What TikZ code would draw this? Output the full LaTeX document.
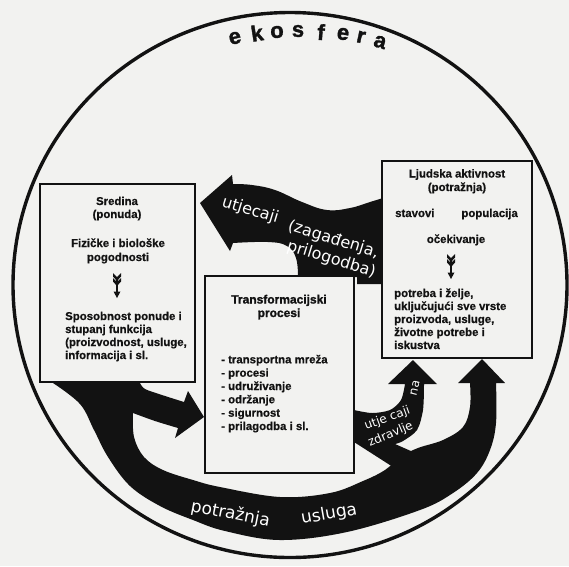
\documentclass[tikz,border=0pt]{standalone}
\usepackage{fontspec}
\setmainfont{Liberation Sans}
\newfontfamily\inkfont{Liberation Sans}[FakeBold=0.6]
\newfontfamily\titlefont{Liberation Sans}[FakeBold=1.4]
\newfontfamily\ekofont{Liberation Sans}[FakeBold=1.5]
\newfontfamily\wfont{DejaVu Sans}
\definecolor{paper}{RGB}{242,242,240}
\definecolor{inkc}{RGB}{18,18,18}
\tikzset{
  featherdown/.pic={
    \fill[inkc] (-4,0) -- (0,4) -- (4,0) -- (4,3.5) -- (0,8) -- (-4,3.5) -- cycle;
    \fill[inkc] (-4,5) -- (0,9) -- (4,5) -- (4,8.5) -- (0,13) -- (-4,8.5) -- cycle;
    \draw[inkc, line width=1.3pt] (0,6) -- (0,20);
    \fill[inkc] (-3.5,18.5) -- (3.5,18.5) -- (0,25) -- cycle;
  }
}
\begin{document}
\begin{tikzpicture}[x=1pt,y=-1pt,
  inkfill/.style={fill=inkc},
  boxnode/.style={draw=inkc, line width=1.4pt, fill=paper, inner sep=0pt},
  bodytext/.style={font=\inkfont\bfseries\fontsize{11.4}{13}\selectfont, inner sep=0pt, text=inkc},
  titletext/.style={font=\titlefont\bfseries\fontsize{12}{13}\selectfont, inner sep=0pt, text=inkc},
  ekotext/.style={font=\ekofont\bfseries\fontsize{22}{22}\selectfont, inner sep=0pt, text=inkc},
  wbig/.style={font=\wfont\fontsize{16}{16}\selectfont, inner sep=0pt, text=white, anchor=base west},
  wmid/.style={font=\wfont\fontsize{17}{17}\selectfont, inner sep=0pt, text=white, anchor=base west},
  wsmall/.style={font=\wfont\fontsize{12}{12}\selectfont, inner sep=0pt, text=white, anchor=base west}
]
\fill[paper] (0,0) rectangle (569,566);
\useasboundingbox (0,0) rectangle (569,566);

% top arrow: utjecaji
\fill[inkfill] (200,203) -- (232,175) -- (233,184)
  -- plot[smooth, tension=0.7] coordinates {(233,184) (252,185) (275,190) (302,202) (327,210) (350,208) (370,202) (383,198)}
  -- (383,284) -- (357,284) -- (357,277) -- (298,277)
  -- plot[smooth, tension=0.7] coordinates {(298,277) (296,258) (287,246) (268,242) (233,243)}
  -- (230,251) -- cycle;

% main band: potraznja usluga
\fill[inkfill] (53,383)
  -- plot[smooth, tension=0.6] coordinates {(53,383) (80,404) (94,430) (108,457) (130,486) (160,506) (193,520) (225,531) (280,540) (347,532) (420,510) (453,493) (477,473) (490,450) (496,423) (496,383)}
  -- (505,383) -- (482,359) -- (458,383) -- (470,383)
  -- plot[smooth, tension=0.6] coordinates {(470,383) (470,407) (463,427) (443,440) (418,448) (400,457) (385,470) (363,481) (330,493) (280,497) (220,487) (193,480) (163,470) (144,457) (134,437) (133,413)}
  -- (140,383) -- cycle;

% branch to transformation box
\fill[inkfill] (125,383) -- (140,383)
  -- plot[smooth] coordinates {(140,383) (145,389) (162,395) (184,402)}
  -- (188,391) -- (204,417) -- (175,438) -- (178,428)
  -- plot[smooth] coordinates {(178,428) (155,421) (133,413)}
  -- (125,400) -- cycle;

% small arrow: utjecaji na zdravlje
\fill[inkfill] (354,410)
  -- plot[smooth] coordinates {(354,410) (372,413) (390,410) (401,400) (405,384)}
  -- (388,384) -- (413,360) -- (437,384) -- (424,384)
  -- plot[smooth] coordinates {(424,384) (423,410) (417,430) (403,441) (395,444)}
  -- (420,455) -- (393,467) -- (354,442) -- cycle;

% boxes
\node[boxnode, minimum width=155, minimum height=198] (sredina) at (117.5,283) {};
\node[boxnode, minimum width=150, minimum height=197] (ljudska) at (457,259.5) {};
\node[boxnode, minimum width=149, minimum height=197] (transf) at (279.5,374.5) {};

% left box text
\node[bodytext, anchor=base] (l1) at (117,205) {Sredina};
\node[bodytext, anchor=base] (l2) at (117,218) {(ponuda)};
\node[bodytext, anchor=base] (l3) at (118,247) {Fizičke i biološke};
\node[bodytext, anchor=base] (l4) at (118,261) {pogodnosti};
\pic at (117,273) {featherdown};
\node[bodytext, anchor=base west] (l5) at (65,320) {Sposobnost ponude i};
\node[bodytext, anchor=base west] (l6) at (65,333) {stupanj funkcija};
\node[bodytext, anchor=base west] (l7) at (65,346) {(proizvodnost, usluge,};
\node[bodytext, anchor=base west] (l8) at (65,359) {informacija i sl.};

% right box text
\node[bodytext, anchor=base] (r1) at (457,177.5) {Ljudska aktivnost};
\node[bodytext, anchor=base] (r2) at (457,191) {(potražnja)};
\node[bodytext, anchor=base west] (r3) at (395,217) {stavovi};
\node[bodytext, anchor=base east] (r4) at (518,217) {populacija};
\node[bodytext, anchor=base] (r5) at (456,243) {očekivanje};
\pic at (451,254) {featherdown};
\node[bodytext, anchor=base west] (r6) at (394,297) {potreba i želje,};
\node[bodytext, anchor=base west] (r7) at (394,310) {uključujući sve vrste};
\node[bodytext, anchor=base west] (r8) at (394,323) {proizvoda, usluge,};
\node[bodytext, anchor=base west] (r9) at (394,336) {životne potrebe i};
\node[bodytext, anchor=base west] (r10) at (394,349) {iskustva};

% center box text
\node[titletext, anchor=base] (c1) at (279,303.5) {Transformacijski};
\node[titletext, anchor=base] (c2) at (279,317) {procesi};
\node[bodytext, anchor=base west] (c3) at (221,363.3) {- transportna mreža};
\node[bodytext, anchor=base west] (c4) at (221,376.7) {- procesi};
\node[bodytext, anchor=base west] (c5) at (221,390) {- udruživanje};
\node[bodytext, anchor=base west] (c6) at (221,403.3) {- održanje};
\node[bodytext, anchor=base west] (c7) at (221,416.7) {- sigurnost};
\node[bodytext, anchor=base west] (c8) at (221,430) {- prilagodba i sl.};

% white texts on arrows
\node[wbig, rotate=-17] (w1) at (221,206) {utjecaji};
\node[wbig, rotate=-17] (w2) at (287,230) {(zagađenja,};
\node[wbig, rotate=-17] (w3) at (286,250) {prilogodba)};
\node[wmid, rotate=-11] (w4) at (190,511) {potražnja};
\node[wmid, rotate=10] (w5) at (302,524) {usluga};
\node[wsmall, rotate=20] (w6) at (366,430) {utje caji};
\node[wsmall, rotate=76, anchor=center] (w7) at (415,388) {na};
\node[wsmall, rotate=23] (w8) at (370,447) {zdravlje};

% ekosfera
\draw[inkc, line width=3.4pt] (290,285) ellipse [x radius=277, y radius=272.5];
\foreach \ch/\px/\py/\rr [count=\i] in {e/235/38/13, k/257/33/9, o/277/32/5, s/298/31/0, f/321/32/-4, e/343/34/-9, r/361/37/-12, a/380/42/-16}
  \node[ekotext, rotate=\rr] (eko\i) at (\px,\py) {\ch};
\end{tikzpicture}
\end{document}
